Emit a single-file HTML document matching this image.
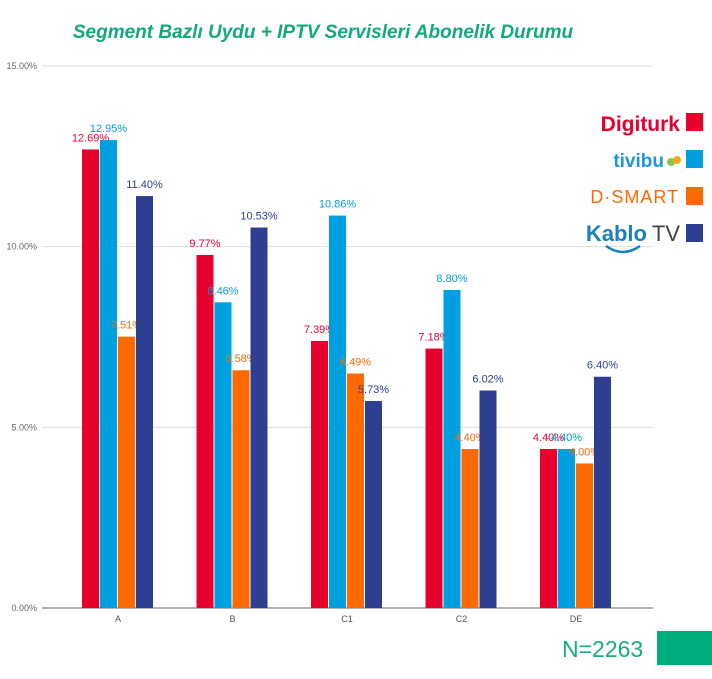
<!DOCTYPE html>
<html><head><meta charset="utf-8"><style>
body{margin:0;background:#fff;width:712px;height:674px;overflow:hidden;font-family:"Liberation Sans",sans-serif}
</style></head><body>
<svg width="712" height="674">
<text x="323" y="38" text-anchor="middle" font-size="19" font-style="italic" font-weight="bold" fill="#12a97e">Segment Bazlı Uydu + IPTV Servisleri Abonelik Durumu</text>
<g id="grid"></g><g id="bars"></g>
<g>
<text x="680" y="131" text-anchor="end" font-size="21" font-weight="bold" fill="#e8002d">Digiturk</text>
<rect x="686" y="113" width="17" height="18" fill="#e8002d"/>
<text x="664" y="167" text-anchor="end" font-size="19" font-weight="bold" fill="#1a9bd7">tivibu</text>
<circle cx="671" cy="162" r="4" fill="#8bc34a"/><circle cx="677" cy="160" r="4" fill="#f5a623"/>
<rect x="686" y="150" width="17" height="18" fill="#009fdf"/>
<text x="679" y="203" text-anchor="end" font-size="18" fill="#ff6a00" letter-spacing="1">D·SMART</text>
<rect x="686" y="187" width="17" height="18" fill="#ff6a00"/>
<text x="647" y="241" text-anchor="end" font-size="22" font-weight="bold" fill="#1a7fc1">Kablo</text>
<text x="680" y="241" text-anchor="end" font-size="22" fill="#444">TV</text>
<path d="M606 246 Q623 258 640 246" stroke="#1a7fc1" stroke-width="2.5" fill="none"/>
<rect x="686" y="224" width="17" height="18" fill="#2e3f92"/>
</g>
<text x="562" y="657" font-size="23" fill="#14ad86">N=2263</text>
<rect x="657" y="631" width="55" height="34" fill="#00ad7f"/>
</svg>
<script>
const categories=["A","B","C1","C2","DE"];
const digiturk=[12.69,9.77,7.39,7.18,4.40];
const tivibu=[12.95,8.46,10.86,8.80,4.40];
const dsmart=[7.51,6.58,6.49,4.40,4.00];
const kablo=[11.40,10.53,5.73,6.02,6.40];
const yTicks=[0,5,10,15];
const NS="http://www.w3.org/2000/svg";
const y=v=>608-v*(542/15);
const xc=i=>118+i*114.5;
function mk(t,a,p){const e=document.createElementNS(NS,t);for(const k in a)e.setAttribute(k,a[k]);p.appendChild(e);return e;}
const grid=document.getElementById('grid'),bars=document.getElementById('bars');
yTicks.forEach(t=>{
 const l=mk('line',{x1:42,x2:653,y1:y(t),y2:y(t),stroke:t===0?'#999':'#ddd','stroke-width':t===0?1.5:1},grid);
 
 
 const tx=mk('text',{x:37,y:y(t)+3,'text-anchor':'end','font-size':9,fill:'#666'},grid);
 tx.textContent=t.toFixed(2)+'%';
 
 
});
const series=[[digiturk,'#e8002d','#e8002d'],[tivibu,'#009fdf','#009fdf'],[dsmart,'#ff6a00','#ff6a00'],[kablo,'#2e3f92','#2e3f92']];
categories.forEach((c,i)=>{
 const tx=mk('text',{x:xc(i),y:622,'text-anchor':'middle','font-size':9,fill:'#555'},grid);
 tx.textContent=c;
 
 
 series.forEach((s,j)=>{
  const v=s[0][i];const x=xc(i)-36+j*18;
  const r=mk('rect',{x:x,y:y(v),width:17,height:608-y(v),fill:s[1]},bars);
  
  
  const lb=mk('text',{x:x+8.5,y:y(v)-8,'text-anchor':'middle','font-size':11,fill:s[2]},bars);
  lb.textContent=v.toFixed(2)+'%';
  
  
 });
});
</script>
</body></html>
